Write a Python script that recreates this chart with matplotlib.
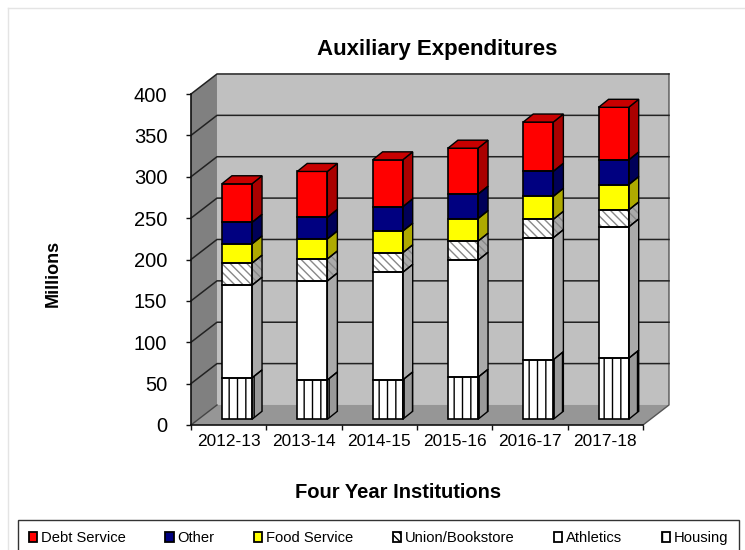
import matplotlib
matplotlib.use("Agg")
import matplotlib.pyplot as plt
from matplotlib.patches import Polygon, Patch
from matplotlib.lines import Line2D

plt.rcParams['font.family'] = ['Liberation Sans', 'DejaVu Sans']
plt.rcParams['hatch.linewidth'] = 1.0

years = ['2012-13', '2013-14', '2014-15', '2015-16', '2016-17', '2017-18']
housing = [50, 47.5, 47.5, 50.8, 72, 73.7]
athletics = [112, 119.6, 130, 141.4, 147.4, 158.7]
union = [26.6, 26.6, 23.6, 23, 22.2, 20.5]
food = [23.3, 24.2, 26.2, 27.3, 27.8, 30.6]
other = [26, 26, 29.4, 29.5, 30.2, 29.8]
debt = [46.7, 55.6, 56.8, 55.6, 59.6, 63.7]
yticks = [0, 50, 100, 150, 200, 250, 300, 350, 400]

W, H = 745, 550
fig = plt.figure(figsize=(W / 100, H / 100), dpi=100, facecolor='white')
ax = fig.add_axes([191 / W, 1 - 425 / H, (643 - 191) / W, (425 - 94) / H])
ax.set_xlim(0, 6)
ax.set_ylim(0, 400)
ax.patch.set_visible(False)

WDX, WDY = 0.345, 24.2      # wall depth
BDX, BDY = 0.133, 9.7       # bar depth
OFX, OFY = 0.11, 6.9        # bar offset on the floor
BW = 0.4
INK = '#222222'


def poly(pts, fc, ec='none', lw=0.0, z=1, hatch=None):
    p = Polygon(pts, closed=True, facecolor=fc, edgecolor=ec, linewidth=lw,
                zorder=z, hatch=hatch, clip_on=False)
    ax.add_patch(p)
    return p


# walls and floor
poly([(0, 0), (WDX, WDY), (WDX, 400 + WDY), (0, 400)], '#808080', z=1)
poly([(WDX, WDY), (6 + WDX, WDY), (6 + WDX, 400 + WDY), (WDX, 400 + WDY)], '#c0c0c0', z=1)
poly([(0, 0), (6, 0), (6 + WDX, WDY), (WDX, WDY)], '#969696', z=1)
ax.plot([6, 6 + WDX, 6 + WDX], [0, WDY, 400 + WDY], color='#555555', lw=1.0, zorder=2, clip_on=False)
ax.plot([0, WDX], [0, WDY], color='#444444', lw=1.0, zorder=2, clip_on=False)

for v in yticks[1:]:
    ax.plot([0, WDX, 6 + WDX], [v, v + WDY, v + WDY], color=INK, lw=1.1, zorder=2, clip_on=False)

# stacked bars
series = [
    ('Housing', housing, '#ffffff', '#999999', '#aaaaaa', '||'),
    ('Athletics', athletics, '#ffffff', '#aaaaaa', '#aaaaaa', None),
    ('Union/Bookstore', union, '#ffffff', '#aaaaaa', '#aaaaaa', '\\\\\\\\'),
    ('Food Service', food, '#ffff00', '#aeaa00', '#aeaa00', None),
    ('Other', other, '#000080', '#000058', '#000058', None),
    ('Debt Service', debt, '#ff0000', '#aa0000', '#c80000', None),
]

handles = {}
for i, yr in enumerate(years):
    x0 = i + 0.5 + OFX - BW / 2
    x1 = x0 + BW
    base = OFY
    for name, vals, fc, side, top, hatch in series:
        b0, b1 = base, base + vals[i]
        hcol = 'black' if hatch == '||' else '#888888'
        # side face
        poly([(x1, b0), (x1 + BDX, b0 + BDY), (x1 + BDX, b1 + BDY), (x1, b1)], side, z=5,
             ec=hcol if hatch else 'none', hatch=hatch)
        poly([(x1, b0), (x1 + BDX, b0 + BDY), (x1 + BDX, b1 + BDY), (x1, b1)], 'none', ec='black', lw=1.0, z=6)
        # front face
        ax.bar(i + 0.5 + OFX, vals[i], width=BW, bottom=b0, color=fc,
               edgecolor=hcol if hatch else fc, hatch=hatch, linewidth=0, zorder=5)
        ax.bar(i + 0.5 + OFX, vals[i], width=BW, bottom=b0, color='none',
               edgecolor='black', linewidth=1.2, zorder=6)
        base = b1
    poly([(x0, base), (x1, base), (x1 + BDX, base + BDY), (x0 + BDX, base + BDY)], '#c80000',
         ec='black', lw=1.0, z=6)

# axes
for s in ('top', 'right'):
    ax.spines[s].set_visible(False)
for s in ('left', 'bottom'):
    ax.spines[s].set_linewidth(1.2)
    ax.spines[s].set_color('#111111')
    ax.spines[s].set_zorder(7)
ax.set_yticks(yticks)
ax.set_yticklabels([str(v) for v in yticks], fontsize=14.5)
ax.tick_params(axis='y', length=3.6, width=1.0, pad=13.5, color='#111111')
ax.set_xticks(range(7))
ax.set_xticklabels([''] * 7)
ax.tick_params(axis='x', which='major', length=3.6, width=1.0, color='#111111')
ax.set_xticks([i + 0.5 for i in range(6)], minor=True)
ax.set_xticklabels(years, minor=True, fontsize=12.4)
ax.tick_params(axis='x', which='minor', length=0, pad=6.5)

fig.text(437 / W, 1 - 50 / H, 'Auxiliary Expenditures', fontsize=16, fontweight='bold',
         ha='center', va='center')
fig.text(53 / W, 1 - 273 / H, 'Millions', fontsize=13, fontweight='bold', rotation=90,
         ha='center', va='center')
fig.text(398.5 / W, 1 - 493 / H, 'Four Year Institutions', fontsize=14.5, fontweight='bold',
         ha='center', va='center')

# legend
leg_handles = []
for name, vals, fc, side, top, hatch in reversed(series):
    leg_handles.append(Patch(facecolor=fc, edgecolor='black', linewidth=1.3, hatch=hatch, label=name))
leg = fig.legend(handles=leg_handles, ncols=6, loc='upper left',
                 bbox_to_anchor=(18 / W, 1 - 520 / H), bbox_transform=fig.transFigure,
                 fontsize=10.6, frameon=True, fancybox=False, edgecolor='#333333',
                 framealpha=1, borderpad=0.75, borderaxespad=0, handlelength=0.55, handleheight=0.6,
                 handletextpad=0.25, columnspacing=2.7, labelspacing=0)
leg.get_frame().set_linewidth(1.0)

# faint page frame
fig.add_artist(Line2D([8 / W, 8 / W], [0, 1 - 8 / H], color='#e4e4e4', lw=1.0))
fig.add_artist(Line2D([8 / W, 1], [1 - 8 / H, 1 - 8 / H], color='#e4e4e4', lw=1.0))

fig.savefig('out.png', dpi=100)
